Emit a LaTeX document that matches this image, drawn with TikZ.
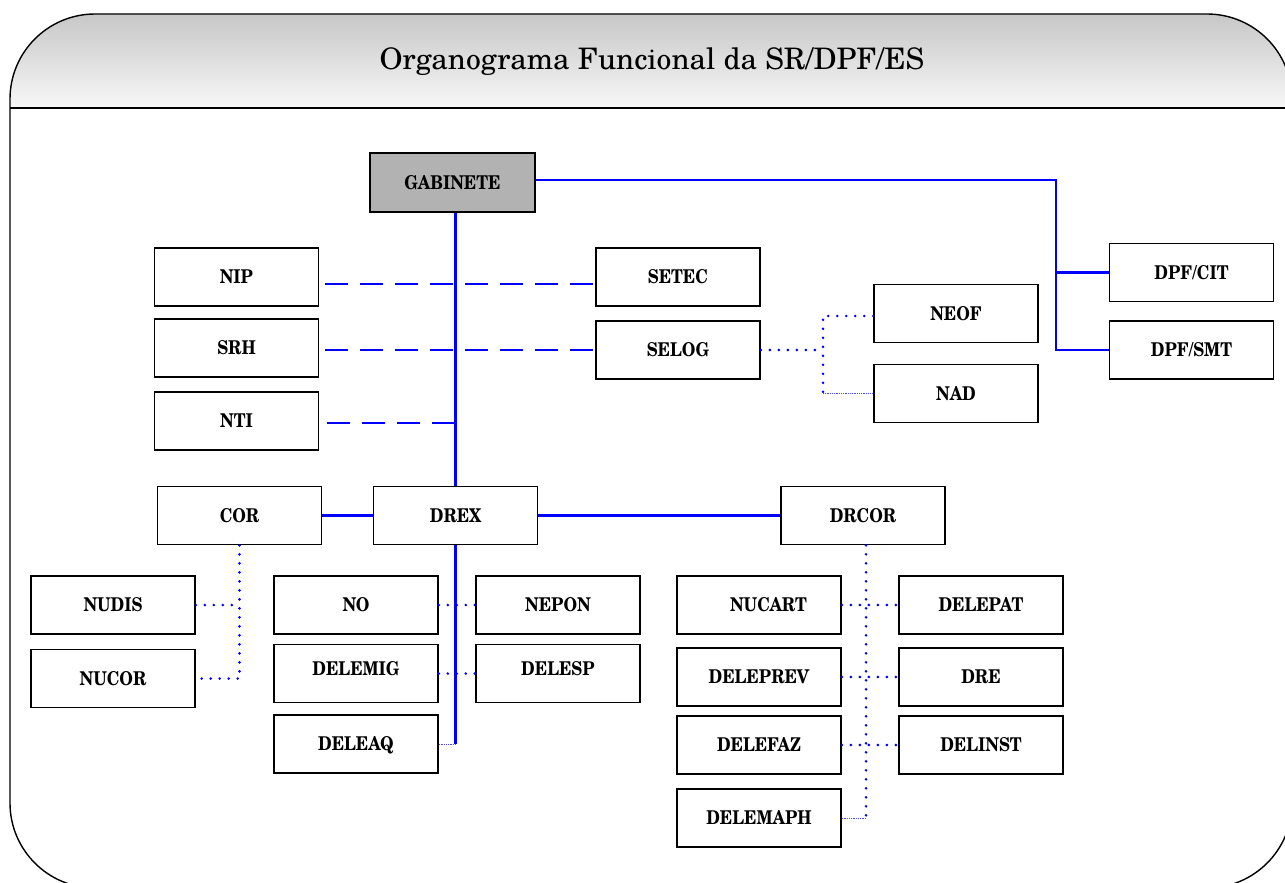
\documentclass[tikz,border=0pt]{standalone}
\usepackage{graphicx}
\usepackage{fontspec}
\newfontfamily\schola{TeX Gyre Schola}
\usetikzlibrary{calc}
\newcommand\lb[1]{\scalebox{0.86}[1]{#1}}
\begin{document}
\begin{tikzpicture}[x=1pt,y=-1pt,
  box/.style={draw=black, line width=1.6pt, minimum width=164pt, minimum height=58pt, inner sep=0pt,
    font=\schola\fontsize{19}{22}\selectfont\bfseries, text height=13.7pt, text depth=0pt},
  solidline/.style={draw=blue, line width=2.5pt},
  dashline/.style={draw=blue, line width=2.5pt, dash pattern=on 23pt off 12pt},
  dotline/.style={draw=blue, line width=2.9pt, line cap=round, dash pattern=on 0pt off 9pt},
  thinline/.style={draw=blue!70, line width=0.8pt, dash pattern=on 1pt off 0.8pt}]
\useasboundingbox (0,0) rectangle (1285,883);
% frame and header
\begin{scope}
  \clip[rounded corners=85pt] (10,14) rectangle (1292,888);
  \shade[top color=black!22, bottom color=white!97!black] (0,14) rectangle (1300,108);
\end{scope}
\draw[line width=1.4pt, rounded corners=85pt] (10,14) rectangle (1292,888);
\draw[line width=1.4pt] (10,108) -- (1292,108);
\node[font=\schola\fontsize{29.6}{35}\selectfont] (title) at (652,62) {Organograma Funcional da SR/DPF/ES};
% boxes
\node[box, fill=black!30, minimum width=165pt, minimum height=59pt] (gab) at (452.5,182.5) {\lb{GABINETE}};
\node[box] (nip) at (236.5,277) {\lb{NIP}};
\node[box] (srh) at (236.5,348) {\lb{SRH}};
\node[box] (nti) at (236.5,421) {\lb{NTI}};
\node[box] (setec) at (678,277) {\lb{SETEC}};
\node[box] (selog) at (678,350) {\lb{SELOG}};
\node[box] (neof) at (956,313.5) {\lb{NEOF}};
\node[box] (nad) at (956,393.5) {\lb{NAD}};
\node[box] (cit) at (1191.5,272.5) {\lb{DPF/CIT}};
\node[box] (smt) at (1191.5,350) {\lb{DPF/SMT}};
\node[box] (cor) at (239.5,515.5) {\lb{COR}};
\node[box] (drex) at (455.5,515.5) {\lb{DREX}};
\node[box] (drcor) at (863,515.5) {\lb{DRCOR}};
\node[box] (nudis) at (113,605) {\lb{NUDIS}};
\node[box] (nucor) at (113,678.5) {\lb{NUCOR}};
\node[box] (no) at (356,605) {\lb{NO}};
\node[box] (delemig) at (356,673.5) {\lb{\raisebox{5pt}{DELEMIG}}};
\node[box] (deleaq) at (356,744) {\lb{DELEAQ}};
\node[box] (nepon) at (558,605) {\lb{NEPON}};
\node[box] (delesp) at (558,673.5) {\lb{\raisebox{5pt}{DELESP}}};
\node[box] (nucart) at (759,605) {\lb{\hspace*{22pt}NUCART}};
\node[box] (deleprev) at (759,677) {\lb{DELEPREV}};
\node[box] (delefaz) at (759,745) {\lb{DELEFAZ}};
\node[box] (delemaph) at (759,818) {\lb{DELEMAPH}};
\node[box] (delepat) at (981,605) {\lb{DELEPAT}};
\node[box] (dre) at (981,677) {\lb{DRE}};
\node[box] (delinst) at (981,745) {\lb{DELINST}};
% coordinates
\coordinate (jr) at (1056,180);
\coordinate (jsel) at (823,350);
\coordinate (nipe) at ([shift={(6,7)}]nip.east);
\coordinate (srhe) at ([shift={(6,2)}]srh.east);
\coordinate (ntie) at ([shift={(8,2)}]nti.east);
% solid connectors
\draw[solidline] (gab.east |- jr) -- (jr) |- (smt.west);
\draw[solidline] (cit.west) -- (cit.west -| jr);
\draw[solidline] (drex.north) -- (drex.north |- gab.south);
\draw[solidline] (cor.east) -- (drex.west);
\draw[solidline] (drex.east) -- (drcor.west);
\draw[solidline] (drex.south) -- (drex.south |- deleaq.east);
% dashed connectors
\draw[dashline] (nipe) -- (nipe -| setec.west);
\draw[dashline] (srhe) -- (srhe -| selog.west);
\draw[dashline] (ntie) -- (ntie -| drex.north);
% dotted connectors
\draw[dotline] (selog.east) -- (jsel);
\draw[dotline] ([yshift=-2.5pt]neof.west) -| (nad.west -| jsel);
\draw[thinline] (nad.west -| jsel) -- (nad.west);
\draw[dotline] (cor.south) |- (nucor.east);
\draw[dotline] (nudis.east) -- (nudis.east -| cor.south);
\draw[dotline] (no.east) -- (nepon.west);
\draw[dotline] (delemig.east) -- (delesp.west);
\draw[thinline] (deleaq.east) -- (deleaq.east -| drex.south);
\draw[dotline] ([xshift=3pt]drcor.south) -- ([xshift=3pt]drcor.south |- delemaph.east);
\draw[thinline] (delemaph.east) -- ([xshift=3pt]delemaph.east -| drcor.south);
\draw[dotline] (nucart.east) -- (delepat.west);
\draw[dotline] (deleprev.east) -- (dre.west);
\draw[dotline] (delefaz.east) -- (delinst.west);
\end{tikzpicture}
\end{document}
